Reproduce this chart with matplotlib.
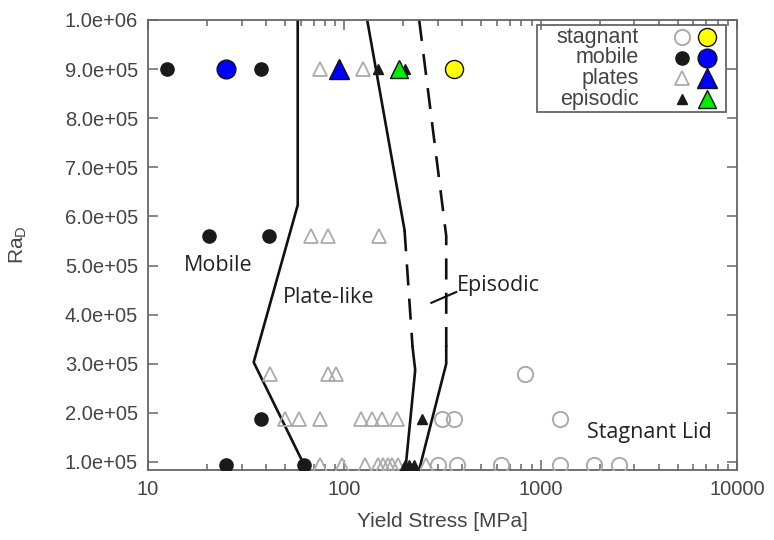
import matplotlib.pyplot as plt
from matplotlib.ticker import FormatStrFormatter, FixedLocator, LogLocator, NullFormatter


# Ra_D of each row of runs
ra = [9.0e5, 5.6e5, 2.8e5, 1.87e5, 0.93e5]

# yield stress [MPa] of each run, grouped by regime
mobile_ys = [12.5, 37.5, 20.5, 41.5, 37.5, 25, 62.5]
mobile_ra = [ra[0], ra[0], ra[1], ra[1], ra[3], ra[4], ra[4]]

plates_ys = [75, 94, 125, 190,
             67.5, 83, 151,
             42, 83, 91,
             50, 59, 75, 122, 138, 155, 185,
             75, 98, 127, 149, 158, 167, 176, 187, 262]
plates_ra = [ra[0]] * 4 + [ra[1]] * 3 + [ra[2]] * 3 + [ra[3]] * 7 + [ra[4]] * 9

episodic_ys = [149, 203, 250, 203, 215, 228]
episodic_ra = [ra[0], ra[0], ra[3], ra[4], ra[4], ra[4]]

stagnant_ys = [364, 836, 316, 364, 1259, 300, 375, 631, 1259, 1875, 2512]
stagnant_ra = [ra[0], ra[2], ra[3], ra[3], ra[3]] + [ra[4]] * 6

# highlighted example runs (one per regime)
hl_mobile = (25, ra[0])
hl_plates = (94, ra[0])
hl_episodic = (190, ra[0])
hl_stagnant = (364, ra[0])

# regime boundaries
ymin = 8.4e4
mp_x = [58, 58, 34.6, 64.3]
mp_y = [1e6, 6.23e5, 3.03e5, ymin]

pe_top_x = [131, 203]
pe_top_y = [1e6, 5.72e5]
pe_mid_x = [203, 223]
pe_mid_y = [5.72e5, 3.34e5]
pe_bot_x = [223, 230, 205]
pe_bot_y = [3.34e5, 2.87e5, ymin]

es_top_x = [241, 331, 331]
es_top_y = [1e6, 5.6e5, 3.34e5]
es_bot_x = [331, 331, 241]
es_bot_y = [3.34e5, 3.0e5, ymin]

GREY = '#444444'
LIGHT = '#aaaaaa'

plt.rcParams['font.family'] = ['Liberation Sans', 'DejaVu Sans']

fig = plt.figure(figsize=(7.74, 5.4), dpi=100)
ax = fig.add_axes([0.191, 0.130, 0.761, 0.833])

# boundaries
kw = dict(color='#111111', lw=1.9, zorder=2)
ax.plot(mp_x, mp_y, **kw)
ax.plot(pe_top_x, pe_top_y, **kw)
ax.plot(pe_mid_x, pe_mid_y, ls=(0, (8, 5)), **kw)
ax.plot(pe_bot_x, pe_bot_y, **kw)
ax.plot(es_top_x, es_top_y, ls=(0, (8, 5)), **kw)
ax.plot(es_bot_x, es_bot_y, **kw)
ax.plot([278, 372], [4.24e5, 4.46e5], color='#111111', lw=1.5, zorder=2)

# runs
ax.plot(stagnant_ys, stagnant_ra, 'o', ms=11, mfc='none', mec=LIGHT, mew=1.4, zorder=3)
ax.plot(plates_ys, plates_ra, '^', ms=10, mfc='none', mec=LIGHT, mew=1.3, zorder=3)
ax.plot(mobile_ys, mobile_ra, 'o', ms=9.5, color='#1a1a1a', zorder=4)
ax.plot(episodic_ys, episodic_ra, '^', ms=7, color='#1a1a1a', zorder=4)

ax.plot(*hl_mobile, 'o', ms=13.5, mfc='#0000ff', mec='#111111', mew=1, zorder=5)
ax.plot(*hl_plates, '^', ms=14, mfc='#0000ff', mec='#111111', mew=1, zorder=5)
ax.plot(*hl_episodic, '^', ms=13, mfc='#00ee00', mec='#111111', mew=1, zorder=5)
ax.plot(*hl_stagnant, 'o', ms=13, mfc='#ffff00', mec='#111111', mew=1, zorder=5)

# regime names
rkw = dict(family=['Open Sans', 'DejaVu Sans'], fontsize=15.5, color='#222222',
           ha='center', va='center', zorder=6)
ax.text(22.7, 5.01e5, 'Mobile', **rkw)
ax.text(83, 4.34e5, 'Plate-like', **rkw)
ax.text(3565, 1.59e5, 'Stagnant Lid', **rkw)
ax.text(377, 4.6e5, 'Episodic', **dict(rkw, ha='left'))

# axes
ax.set_xscale('log')
ax.set_xlim(10, 10000)
ax.set_ylim(ymin, 1e6)
ax.xaxis.set_major_locator(FixedLocator([10, 100, 1000, 10000]))
ax.xaxis.set_major_formatter(FormatStrFormatter('%d'))
ax.xaxis.set_minor_locator(LogLocator(base=10, subs=range(2, 10)))
ax.xaxis.set_minor_formatter(NullFormatter())
ax.yaxis.set_major_locator(FixedLocator([i * 1e5 for i in range(1, 11)]))
ax.yaxis.set_major_formatter(FormatStrFormatter('%.1e'))

ax.tick_params(which='both', direction='in', top=True, right=True, color='#666666',
               labelsize=14.5, labelcolor=GREY, width=1.1)
ax.tick_params(which='major', length=7, pad=7)
ax.tick_params(which='minor', length=4)
for s in ax.spines.values():
    s.set_color('#666666')
    s.set_linewidth(1.3)

ax.set_xlabel('Yield Stress [MPa]', fontsize=15, color=GREY, labelpad=10)
ax.set_ylabel('Ra$_\\mathregular{D}$', fontsize=15, color=GREY, labelpad=26)

# key
tr = ax.transAxes
ax.add_patch(plt.Rectangle((0.661, 0.796), 0.32, 0.193, transform=tr, fill=False,
                           ec='#666666', lw=1.3, zorder=6))
key = [('stagnant', dict(marker='o', ms=11, mfc='none', mec=LIGHT, mew=1.4),
        dict(marker='o', ms=13, mfc='#ffff00', mec='#111111', mew=1)),
       ('mobile', dict(marker='o', ms=9.5, color='#1a1a1a'),
        dict(marker='o', ms=13.5, mfc='#0000ff', mec='#111111', mew=1)),
       ('plates', dict(marker='^', ms=10, mfc='none', mec=LIGHT, mew=1.3),
        dict(marker='^', ms=14, mfc='#0000ff', mec='#111111', mew=1)),
       ('episodic', dict(marker='^', ms=7, color='#1a1a1a'),
        dict(marker='^', ms=13, mfc='#00ee00', mec='#111111', mew=1))]
for i, (name, small, big) in enumerate(key):
    yk = 0.962 - i * 0.046
    ax.text(0.834, yk, name, transform=tr, ha='right', va='center',
            fontsize=15.5, color=GREY, zorder=7)
    ax.plot([0.907], [yk], transform=tr, clip_on=False, zorder=7, **small)
    ax.plot([0.949], [yk], transform=tr, clip_on=False, zorder=7, **big)

fig.savefig('out.png', dpi=100, facecolor='white')
